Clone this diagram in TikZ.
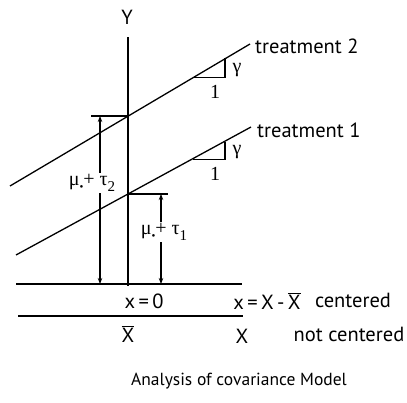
\documentclass[tikz,border=0pt]{standalone}
\usepackage{fontspec}
\setmainfont{PT Sans}
\newfontfamily\grk{Liberation Serif}
\usetikzlibrary{arrows.meta}
\begin{document}
\begin{tikzpicture}[x=1pt,y=-1pt,
  font=\fontsize{20.5}{23}\selectfont,
  axis/.style={line width=2.4pt},
  plain/.style={line width=1.3pt},
  tick/.style={line width=1.1pt},
  dim/.style={line width=1.1pt,{Stealth[length=6pt,width=4.5pt]}-{Stealth[length=6pt,width=4.5pt]}},
  lbl/.style={inner sep=1pt},
  greek/.style={inner sep=1pt,font=\grk\fontsize{20}{22}\selectfont},
  gap/.style={inner sep=1pt,fill=white,font=\grk\fontsize{20}{22}\selectfont}]
\useasboundingbox (0,0) rectangle (407,403);
% coordinates
\coordinate (ytop) at (128,37);
\coordinate (ybot) at (128,286);
\coordinate (t2l) at (10,186);
\coordinate (t2r) at (250,44);
\coordinate (t1l) at (16,255);
\coordinate (t1r) at (251,127);
\coordinate (p2) at (128,116);
\coordinate (p1) at (128,194);
\coordinate (al) at (16,284);
\coordinate (ar) at (242,284);
\coordinate (bl) at (18,316);
\coordinate (br) at (243,316);
\coordinate (tk2) at (91,116);
\coordinate (tk1) at (168,194);
\coordinate (a2top) at (100,116);
\coordinate (a2bot) at (100,284);
\coordinate (a1top) at (161,194);
\coordinate (a1bot) at (161,284);
% slope triangles
\coordinate (s2a) at (193,77.3);
\coordinate (s2b) at (225,77.3);
\coordinate (s2c) at (225,58.4);
\coordinate (s1a) at (193,159.5);
\coordinate (s1b) at (225,159.5);
\coordinate (s1c) at (225,142);
% lines
\draw[plain] (t2l) -- (t2r);
\draw[plain] (t1l) -- (t1r);
\draw[plain] (al) -- (ar);
\draw[plain] (bl) -- (br);
\draw[tick] (tk2) -- (p2);
\draw[tick] (p1) -- (tk1);
\draw[dim] (a2bot) -- (a2top);
\draw[dim] (a1bot) -- (a1top);
\draw[tick] (s2a) -- (s2b) -- (s2c);
\draw[tick] (s1a) -- (s1b) -- (s1c);
\draw[axis] (ybot) -- (ytop);
% labels
\node[lbl] (ylab) at (127,17) {Y};
\node[lbl,anchor=west] (tr2) at (254,46) {treatment 2};
\node[lbl,anchor=west] (tr1) at (256,130) {treatment 1};
\node[greek] (g2) at (237,70) {γ};
\node[greek] (o2) at (215,92) {1};
\node[greek] (g1) at (237,152) {γ};
\node[greek] (o1) at (215,174) {1};
\node[gap] (m2) at (92,183) {μ\raisebox{-0.25em}{\fontsize{11}{11}\selectfont•}+ τ\raisebox{-0.3em}{\fontsize{15}{15}\selectfont 2}};
\node[gap] (m1) at (164,232) {μ\raisebox{-0.25em}{\fontsize{11}{11}\selectfont•}+ τ\raisebox{-0.3em}{\fontsize{15}{15}\selectfont 1}};
\node[lbl] (x0) at (144,301) {x\,=\,0};
\node[lbl] (xc) at (267,301) {x\,=\,X\,-\,$\overline{\mbox{X}}$};
\node[lbl] (cen) at (353,300) {centered};
\node[lbl] (xbar) at (128,334) {$\overline{\mbox{X}}$};
\node[lbl] (xx) at (242,336) {X};
\node[lbl] (ncen) at (349,334) {not centered};
\node[lbl,font=\fontsize{17.5}{20}\selectfont] (title) at (239,381) {Analysis of covariance Model};
\end{tikzpicture}
\end{document}
